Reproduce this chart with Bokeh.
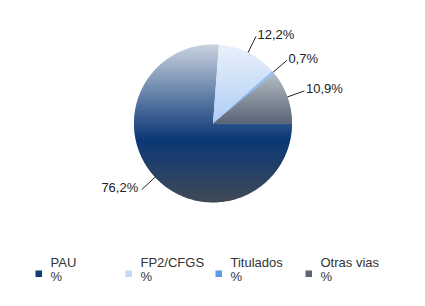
import math
from bokeh.plotting import figure
from bokeh.models import Range1d
from bokeh.core.properties import value
from bokeh.embed import file_html
from bokeh.resources import INLINE

# ---- data ----
categories = ["PAU", "FP2/CFGS", "Titulados", "Otras vias"]
percent = [76.2, 12.2, 0.7, 10.9]
labels = ["76,2%", "12,2%", "0,7%", "10,9%"]
legend_sub = ["%", "%", "%", "%"]

# ---- styles ----
grad_stops = [
    [(0.0, "#c9d3df"), (0.6, "#0b3877"), (1.0, "#414a57")],
    [(0.0, "#eaf1fa"), (1.0, "#aecdf5")],
    [(0.0, "#9cc4f4"), (1.0, "#6aa2ea")],
    [(0.0, "#b4bcc4"), (1.0, "#5a6677")],
]
legend_colors = ["#163d72", "#c3d9f4", "#5d9ae8", "#5c6676"]
FONT = "Liberation Sans"

W, H = 425, 306
CX, CY, R = 212.5, 123.0, 79.0

p = figure(width=W, height=H, output_backend="svg", toolbar_location=None,
           x_range=Range1d(0, W), y_range=Range1d(H, 0),
           x_axis_location=None, y_axis_location=None, min_border=0)
p.grid.visible = False
p.outline_line_color = None
p.background_fill_color = "white"
p.border_fill_color = "white"


def hex2rgb(h):
    h = h.lstrip("#")
    return tuple(int(h[i:i + 2], 16) for i in (0, 2, 4))


def grad_color(stops, f):
    f = min(max(f, 0.0), 1.0)
    for (f0, c0), (f1, c1) in zip(stops[:-1], stops[1:]):
        if f <= f1:
            t = 0 if f1 == f0 else (f - f0) / (f1 - f0)
            a, b = hex2rgb(c0), hex2rgb(c1)
            return "#%02x%02x%02x" % tuple(int(round(a[i] + (b[i] - a[i]) * t)) for i in range(3))
    return stops[-1][1]


def clip(poly, keep, yline):
    out = []
    n = len(poly)
    for i in range(n):
        cur, prev = poly[i], poly[i - 1]
        def inter(a, b):
            t = (yline - a[1]) / (b[1] - a[1])
            return (a[0] + t * (b[0] - a[0]), yline)
        if keep(cur):
            if not keep(prev):
                out.append(inter(prev, cur))
            out.append(cur)
        elif keep(prev):
            out.append(inter(prev, cur))
    return out


total = sum(percent)
xs_all, ys_all, cols_all = [], [], []
lead_x, lead_y, txt_x, txt_y, txt_align, txt = [], [], [], [], [], []
start = 0.0
for k, v in enumerate(percent):
    span = v / total * 2 * math.pi
    end = start + span
    nseg = max(3, int(math.degrees(span) / 1.5))
    poly = [(CX, CY)] + [(CX + R * math.cos(start + span * i / nseg),
                          CY + R * math.sin(start + span * i / nseg)) for i in range(nseg + 1)]
    ymin = min(q[1] for q in poly)
    ymax = max(q[1] for q in poly)
    y = ymin
    step = 1.0
    while y < ymax:
        y0, y1 = y, min(y + step + 0.6, ymax)
        part = clip(poly, lambda q: q[1] >= y0, y0)
        if part:
            part = clip(part, lambda q: q[1] <= y1, y1)
        if len(part) >= 3:
            xs_all.append([q[0] for q in part])
            ys_all.append([q[1] for q in part])
            f = ((y0 + min(y + step, ymax)) / 2 - ymin) / (ymax - ymin) if ymax > ymin else 0
            cols_all.append(grad_color(grad_stops[k], f))
        y += step
    # leader line
    mid = (start + end) / 2
    c, s = math.cos(mid), math.sin(mid)
    x0, yy0 = CX + R * c, CY + R * s
    rr = 1.23 * R
    x1, yy1 = CX + rr * c, CY + rr * s
    lead_x.append([x0, x1])
    lead_y.append([yy0, yy1])
    if c >= 0:
        txt_x.append(x1 + 1.5)
        txt_align.append("left")
    else:
        txt_x.append(x1 - 3.5)
        txt_align.append("right")
    txt_y.append(yy1 - 2.0)
    txt.append(labels[k])
    start = end

p.patches(xs_all, ys_all, fill_color=cols_all, line_color=None)
p.multi_line(lead_x, lead_y, line_color="#222222", line_width=1)
for i in range(len(txt)):
    p.text(x=[txt_x[i]], y=[txt_y[i]], text=[txt[i]], text_align=txt_align[i],
           text_baseline="middle", text_font=value(FONT), text_font_size="13px",
           text_color="#222222")

# ---- legend ----
LX0, LDX = 35, 90
for i, name in enumerate(categories):
    lx = LX0 + i * LDX
    p.quad(left=[lx], right=[lx + 6.5], top=[270], bottom=[276.5],
           fill_color=legend_colors[i], line_color=None)
    p.text(x=[lx + 15], y=[262], text=[name], text_align="left",
           text_baseline="middle", text_font=value(FONT), text_font_size="13px",
           text_color="#333333")
    p.text(x=[lx + 15], y=[276], text=[legend_sub[i]], text_align="left",
           text_baseline="middle", text_font=value(FONT), text_font_size="13px",
           text_color="#333333")

open("out.html", "w").write(file_html(p, INLINE))
